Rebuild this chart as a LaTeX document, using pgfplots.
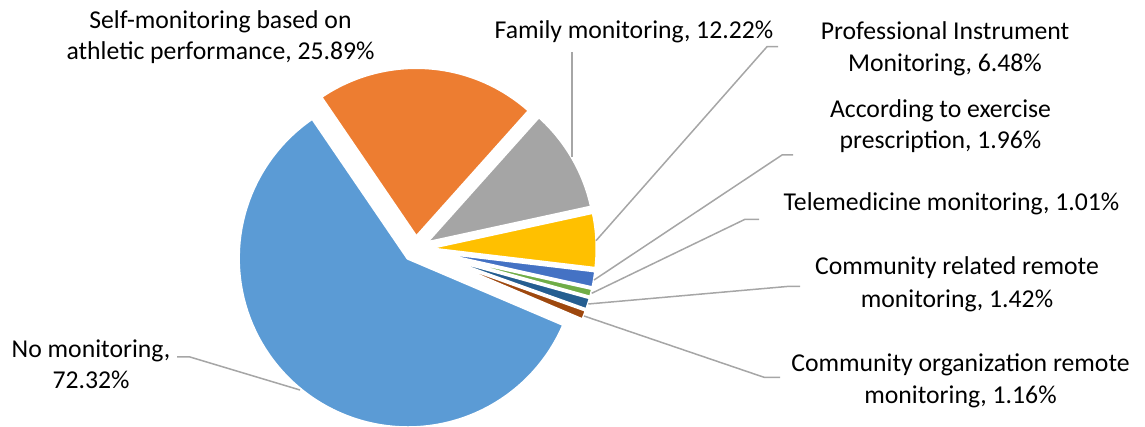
\documentclass[border=0pt]{standalone}
\usepackage{pgfplots}
\pgfplotsset{compat=1.18}
\usepackage{fontspec}
\setmainfont{Carlito}
\definecolor{cNo}{HTML}{5B9BD5}
\definecolor{cSelf}{HTML}{ED7D31}
\definecolor{cFam}{HTML}{A5A5A5}
\definecolor{cProf}{HTML}{FFC000}
\definecolor{cEx}{HTML}{4472C4}
\definecolor{cTele}{HTML}{70AD47}
\definecolor{cRel}{HTML}{255E91}
\definecolor{cOrg}{HTML}{9E480E}
\definecolor{lead}{HTML}{A6A6A6}
% value total (multiple response): 122.46
\def\total{122.46}
\newcommand\slice[2]{%
  \pgfmathsetmacro\aEnd{\aStart-(#2/\total)*360}%
  \pgfmathsetmacro\aMid{(\aStart+\aEnd)/2}%
  \pgfmathsetmacro\ox{415.5+12*cos(\aMid)}%
  \pgfmathsetmacro\oy{-249+12*sin(\aMid)}%
  \edef\temp{\noexpand\addplot[fill=#1, draw=white, line width=3pt, line join=round, domain=\aEnd:\aStart, samples=90, variable=\noexpand\t] ({\ox+169.5*cos(\noexpand\t)},{\oy+169.5*sin(\noexpand\t)}) -- (axis cs:\ox,\oy) -- cycle;}%
  \temp
  \global\let\aStart\aEnd
}
\begin{document}
\begin{tikzpicture}[lbl/.style={anchor=base, inner sep=0pt, font=\fontsize{25.7}{31}\selectfont}]
\begin{axis}[x=1pt, y=1pt, xmin=0, xmax=1145, ymin=-427, ymax=0,
  hide axis, clip=false, scale only axis]
\gdef\aStart{124.3}
\slice{cSelf}{25.89}
\slice{cFam}{12.22}
\slice{cProf}{6.48}
\slice{cEx}{1.96}
\slice{cTele}{1.01}
\slice{cRel}{1.42}
\slice{cOrg}{1.16}
\slice{cNo}{72.32}
% leader lines
\addplot[lead, line width=1.5pt, no markers] coordinates {(572,-52) (572,-157)};
\addplot[lead, line width=1.5pt, no markers] coordinates {(778,-46.7) (767,-46.7) (596,-240.7)};
\addplot[lead, line width=1.5pt, no markers] coordinates {(793,-155) (782,-155) (594,-280)};
\addplot[lead, line width=1.5pt, no markers] coordinates {(759,-219.3) (745,-219.3) (591.7,-293.3)};
\addplot[lead, line width=1.5pt, no markers] coordinates {(800,-286.5) (787,-286.5) (588.3,-304)};
\addplot[lead, line width=1.5pt, no markers] coordinates {(780,-377.3) (764,-377.3) (584,-316)};
\addplot[lead, line width=1.5pt, no markers] coordinates {(177,-357) (190,-357) (300,-390)};
% labels
\node[lbl] at (axis cs:220.5,-28.3) {Self-monitoring based on};
\node[lbl] at (axis cs:220.5,-60) {athletic performance, 25.89\%};
\node[lbl] at (axis cs:634,-38.3) {Family monitoring, 12.22\%};
\node[lbl] at (axis cs:945,-39.3) {Professional Instrument};
\node[lbl] at (axis cs:945,-71.7) {Monitoring, 6.48\%};
\node[lbl] at (axis cs:940.5,-117.3) {According to exercise};
\node[lbl] at (axis cs:940.5,-149) {prescription, 1.96\%};
\node[lbl] at (axis cs:951.5,-210.7) {Telemedicine monitoring, 1.01\%};
\node[lbl] at (axis cs:957,-275) {Community related remote};
\node[lbl] at (axis cs:957,-307.3) {monitoring, 1.42\%};
\node[lbl] at (axis cs:960.5,-371.7) {Community organization remote};
\node[lbl] at (axis cs:960.5,-403.3) {monitoring, 1.16\%};
\node[lbl] at (axis cs:91,-357.3) {No monitoring,};
\node[lbl] at (axis cs:91,-389) {72.32\%};
\end{axis}
\pgfresetboundingbox
\path (current axis.south west) rectangle (current axis.north east);
\end{tikzpicture}
\end{document}
